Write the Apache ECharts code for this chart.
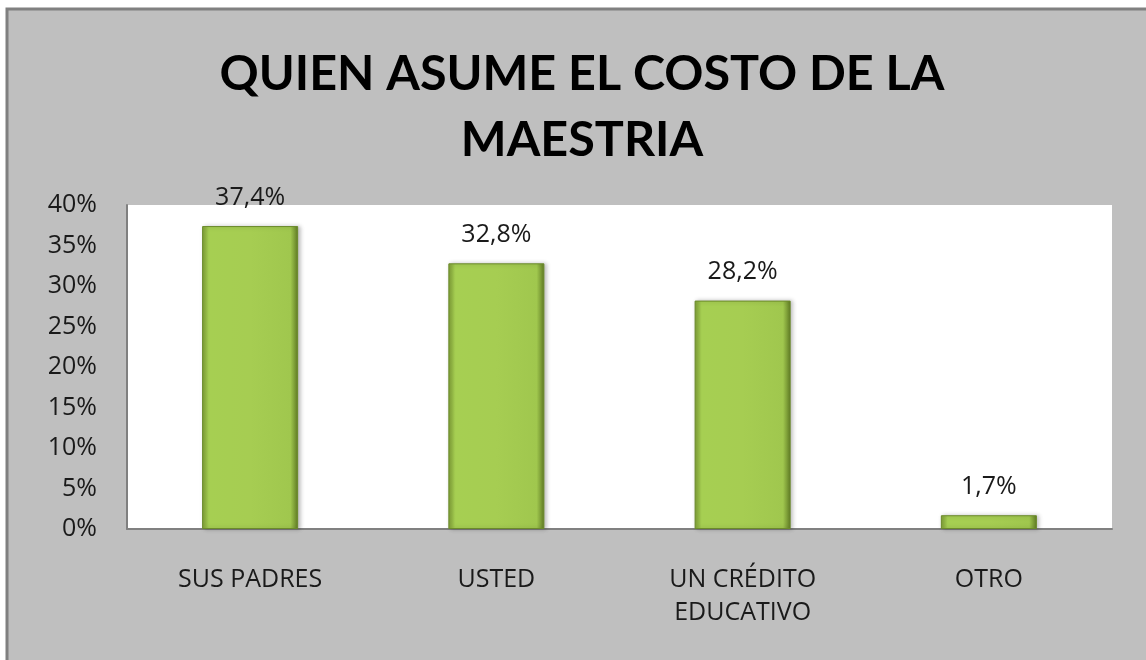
<!DOCTYPE html>
<html>
<head>
<meta charset="utf-8">
<style>
  html, body { margin: 0; padding: 0; background: #fff; }
  #chart { width: 1146px; height: 660px; }
</style>
<script src="https://cdn.jsdelivr.net/npm/echarts@6/dist/echarts.min.js"></script>
</head>
<body>
<div id="chart"></div>
<script>
// categorias y valores (%)
const categories = ['SUS PADRES', 'USTED', 'UN CRÉDITO\nEDUCATIVO', 'OTRO'];
const values = [37.4, 32.8, 28.2, 1.7];
const yTicks = { min: 0, max: 40, interval: 5 };

const chart = echarts.init(document.getElementById('chart'));

const barColor = new echarts.graphic.LinearGradient(0, 0, 1, 0, [
    { offset: 0, color: '#7f9f36' },
    { offset: 0.07, color: '#a6cf52' },
    { offset: 0.5, color: '#a6cd52' },
    { offset: 0.92, color: '#a0c74e' },
    { offset: 1, color: '#5f7a24' }
]);

chart.setOption({
    backgroundColor: '#fff',
    graphic: {
        elements: [{
            type: 'rect',
            z: -10,
            silent: true,
            shape: { x: 7, y: 9, width: 1200, height: 700 },
            style: { fill: '#bfbfbf', stroke: '#808080', lineWidth: 3 }
        }]
    },
    title: {
        text: 'QUIEN ASUME EL COSTO DE LA\nMAESTRIA',
        left: 577,
        textAlign: 'center',
        top: 36,
        textStyle: {
            fontFamily: 'Lato',
            fontWeight: 'bold',
            fontSize: 48.5,
            lineHeight: 66,
            color: '#000'
        }
    },
    grid: {
        left: 127,
        right: 34,
        top: 205,
        bottom: 131,
        show: true,
        backgroundColor: '#fff',
        borderWidth: 0
    },
    xAxis: {
        type: 'category',
        data: categories,
        axisLine: { lineStyle: { color: '#808080', width: 2 } },
        axisTick: { show: false },
        axisLabel: {
            margin: 34,
            fontFamily: 'Open Sans',
            fontSize: 25,
            lineHeight: 33,
            color: '#1a1a1a'
        }
    },
    yAxis: {
        type: 'value',
        min: yTicks.min,
        max: yTicks.max,
        interval: yTicks.interval,
        splitLine: { show: false },
        axisLine: { show: true, lineStyle: { color: '#808080', width: 2 } },
        axisTick: { show: false },
        axisLabel: {
            formatter: '{value}%',
            margin: 30,
            fontFamily: 'Open Sans',
            fontSize: 25,
            color: '#1a1a1a'
        }
    },
    series: [{
        type: 'bar',
        data: values,
        barWidth: '39%',
        itemStyle: {
            color: barColor,
            borderColor: '#6b8a2a',
            borderWidth: 1,
            shadowColor: 'rgba(0,0,0,0.25)',
            shadowBlur: 4,
            shadowOffsetX: 2
        },
        label: {
            show: true,
            position: 'top',
            distance: 16,
            formatter: p => String(p.value).replace('.', ',') + '%',
            fontFamily: 'Open Sans',
            fontSize: 25,
            color: '#1a1a1a'
        }
    }]
});

window.addEventListener('resize', () => {
    chart.resize();
});
</script>
</body>
</html>
